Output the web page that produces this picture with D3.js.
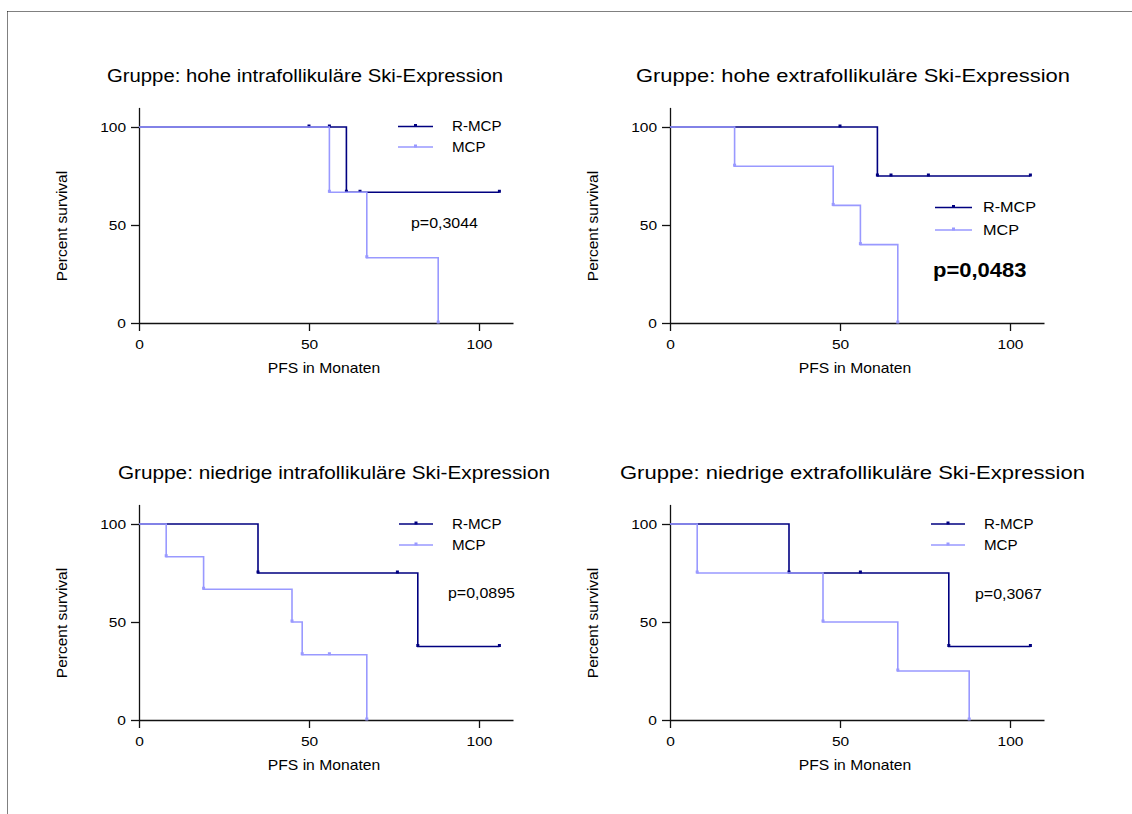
<!DOCTYPE html>
<html><head><meta charset="utf-8">
<script src="https://cdn.jsdelivr.net/npm/d3@7"></script>
<style>
body{margin:0;background:#fff}
svg{display:block}
text{font-family:"Liberation Sans",Arial,sans-serif;fill:#000}
</style>
</head><body><svg id="c" width="1132" height="814"></svg>
<script>
// ---------- DATA ----------
const titles = [
  "Gruppe: hohe intrafollikuläre Ski-Expression",
  "Gruppe: hohe extrafollikuläre Ski-Expression",
  "Gruppe: niedrige intrafollikuläre Ski-Expression",
  "Gruppe: niedrige extrafollikuläre Ski-Expression"
];
const xTicks = [0, 50, 100];
const yTicks = [0, 50, 100];
const seriesNames = ["R-MCP", "MCP"];
const xLabel = "PFS in Monaten";
const yLabel = "Percent survival";
const pValues = ["p=0,3044", "p=0,0483", "p=0,0895", "p=0,3067"];

// panel 1 – hohe intrafollikuläre
const p1RmcpTime = [0, 50, 56, 61, 65, 106];
const p1RmcpSurv = [100, 100, 100, 66.7, 66.7, 66.7];
const p1RmcpCens = [0, 1, 1, 0, 1, 1];
const p1McpTime = [0, 56, 67, 88];
const p1McpSurv = [100, 66.7, 33.3, 0];
const p1McpCens = [0, 0, 0, 0];
// panel 2 – hohe extrafollikuläre
const p2RmcpTime = [0, 50, 61, 65, 76, 106];
const p2RmcpSurv = [100, 100, 75, 75, 75, 75];
const p2RmcpCens = [0, 1, 0, 1, 1, 1];
const p2McpTime = [0, 19, 48, 56, 67];
const p2McpSurv = [100, 80, 60, 40, 0];
const p2McpCens = [0, 0, 0, 0, 0];
// panel 3 – niedrige intrafollikuläre
const p3RmcpTime = [0, 35, 76, 82, 106];
const p3RmcpSurv = [100, 75, 75, 37.5, 37.5];
const p3RmcpCens = [0, 0, 1, 0, 1];
const p3McpTime = [0, 8, 19, 45, 48, 56, 67];
const p3McpSurv = [100, 83.3, 66.7, 50, 33.3, 33.3, 0];
const p3McpCens = [0, 0, 0, 0, 0, 1, 0];
// panel 4 – niedrige extrafollikuläre
const p4RmcpTime = [0, 35, 56, 82, 106];
const p4RmcpSurv = [100, 75, 75, 37.5, 37.5];
const p4RmcpCens = [0, 0, 1, 0, 1];
const p4McpTime = [0, 8, 45, 67, 88];
const p4McpSurv = [100, 75, 50, 25, 0];
const p4McpCens = [0, 0, 0, 0, 0];

// ---------- LAYOUT / STYLE ----------
const colors = ["#000080", "#9999ff"];
const xDomain = [0, 110], yDomain = [0, 110];
const plotW = 374, plotH = 215.6;
const layout = [
  {x0: 139, y0: 323, title: {x: 107, w: 396}, legFont: 14, leg: {x1: 398, x2: 433, y1: 126.5, y2: 147, tx: 452}, p: {x: 411, y: 228, bold: false}},
  {x0: 670, y0: 323, title: {x: 636, w: 434}, legFont: 15, leg: {x1: 935, x2: 972, y1: 207.5, y2: 230, tx: 983}, p: {x: 933, y: 277, bold: true}},
  {x0: 139, y0: 720, title: {x: 118, w: 432}, legFont: 14, leg: {x1: 399, x2: 433, y1: 524, y2: 545, tx: 452}, p: {x: 448, y: 598, bold: false}},
  {x0: 670, y0: 720, title: {x: 620, w: 465}, legFont: 14, leg: {x1: 931, x2: 965, y1: 524, y2: 545, tx: 984}, p: {x: 975, y: 599, bold: false}}
];
const panelSeries = [
  [[p1RmcpTime, p1RmcpSurv, p1RmcpCens], [p1McpTime, p1McpSurv, p1McpCens]],
  [[p2RmcpTime, p2RmcpSurv, p2RmcpCens], [p2McpTime, p2McpSurv, p2McpCens]],
  [[p3RmcpTime, p3RmcpSurv, p3RmcpCens], [p3McpTime, p3McpSurv, p3McpCens]],
  [[p4RmcpTime, p4RmcpSurv, p4RmcpCens], [p4McpTime, p4McpSurv, p4McpCens]]
];

const svg = d3.select("#c");

function stretch(sel, k) {
  sel.each(function () {
    const t = d3.select(this);
    const x = +t.attr("x") || 0;
    t.attr("transform", `translate(${x},0) scale(${k},1) translate(${-x},0)`);
  });
}

// dotted frame (top and left)
svg.append("line").attr("x1", 7.5).attr("x2", 1132).attr("y1", 11.5).attr("y2", 11.5)
  .attr("stroke", "#000").attr("stroke-width", 1).attr("stroke-dasharray", "1,1");
svg.append("line").attr("x1", 7.5).attr("x2", 7.5).attr("y1", 11.5).attr("y2", 814)
  .attr("stroke", "#000").attr("stroke-width", 1).attr("stroke-dasharray", "1,1");

layout.forEach((L, i) => {
  const x = d3.scaleLinear().domain(xDomain).range([L.x0, L.x0 + plotW]);
  const y = d3.scaleLinear().domain(yDomain).range([L.y0, L.y0 - plotH]);
  const g = svg.append("g");

  // title
  g.append("text").attr("x", L.title.x).attr("y", L.y0 - 241)
    .attr("textLength", L.title.w).attr("lengthAdjust", "spacingAndGlyphs")
    .style("font-size", "17.5px").text(titles[i]);

  // axes
  const ax = g.append("g").attr("transform", `translate(0,${L.y0})`)
    .call(d3.axisBottom(x).tickValues(xTicks).tickSize(8).tickSizeOuter(0).tickPadding(8));
  const ay = g.append("g").attr("transform", `translate(${L.x0},0)`)
    .call(d3.axisLeft(y).tickValues(yTicks).tickSize(8).tickSizeOuter(0).tickPadding(5));
  [ax, ay].forEach(a => {
    a.selectAll("path,line").attr("stroke", "#111").attr("stroke-width", 1.3);
    a.selectAll("text").style("font-size", "13.5px").attr("fill", "#000")
      .style("font-family", '"Liberation Sans",Arial,sans-serif');
    stretch(a.selectAll("text"), 1.15);
  });

  // axis labels
  const xl = g.append("text").attr("x", L.x0 + 185).attr("y", L.y0 + 50)
    .attr("text-anchor", "middle").style("font-size", "14px").text(xLabel);
  stretch(xl, 1.12);
  g.append("text").attr("transform", `translate(${L.x0 - 72},${L.y0 - 97}) rotate(-90)`)
    .attr("text-anchor", "middle").style("font-size", "15.5px").text(yLabel);

  // survival curves
  const line = d3.line().x(d => x(d.t)).y(d => y(d.s)).curve(d3.curveStepAfter);
  panelSeries[i].forEach((ser, si) => {
    const pts = ser[0].map((t, k) => ({t: t, s: ser[1][k], c: ser[2][k]}));
    g.append("path").datum(pts).attr("d", line).attr("fill", "none")
      .attr("stroke", colors[si]).attr("stroke-width", 1.6);
    g.selectAll(null).data(pts.filter(d => d.t > 0)).enter().append("rect")
      .attr("x", d => x(d.t) - 1.5).attr("y", d => y(d.s) - 2.5)
      .attr("width", 3).attr("height", 3).attr("fill", colors[si]);
  });

  // legend
  seriesNames.forEach((nm, si) => {
    const ly = si === 0 ? L.leg.y1 : L.leg.y2;
    g.append("line").attr("x1", L.leg.x1).attr("x2", L.leg.x2).attr("y1", ly).attr("y2", ly)
      .attr("stroke", colors[si]).attr("stroke-width", 1.6);
    g.append("rect").attr("x", (L.leg.x1 + L.leg.x2) / 2 - 1.5).attr("y", ly - 2.5)
      .attr("width", 3).attr("height", 3).attr("fill", colors[si]);
    const lt = g.append("text").attr("x", L.leg.tx).attr("y", ly + 5)
      .style("font-size", L.legFont + "px").text(nm);
    stretch(lt, 1.08);
  });

  // p-value
  const pt = g.append("text").attr("x", L.p.x).attr("y", L.p.y)
    .style("font-size", L.p.bold ? "20px" : "14px")
    .style("font-weight", L.p.bold ? "bold" : "normal").text(pValues[i]);
  stretch(pt, L.p.bold ? 1.1 : 1.14);
});
</script>
</body></html>
